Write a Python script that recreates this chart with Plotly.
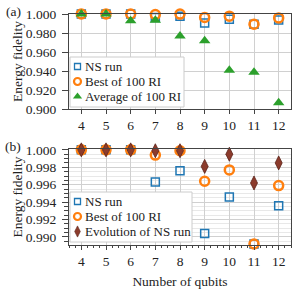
import plotly.graph_objects as go

qubits = [4, 5, 6, 7, 8, 9, 10, 11, 12]

ns_run = [1.0, 1.0, 1.0, 0.9963, 0.9976, 0.9904, 0.9946, 0.9892, 0.9936]
best_ri = [1.0, 1.0, 1.0, 0.9994, 0.9999, 0.9964, 0.9977, 0.9892, 0.9959]
avg_ri = [1.0, 1.0, 0.993, 0.9935, 0.9768, 0.9719, 0.9407, 0.9386, 0.9066]
evo_ns = [1.0, 1.0, 1.0, 0.9999, 0.9999, 0.9981, 0.9995, 0.9962, 0.9985]

legend_a = ["NS run", "Best of 100 RI", "Average of 100 RI"]
legend_b = ["NS run", "Best of 100 RI", "Evolution of NS run"]

FONT = "Liberation Serif"
BLUE = "#1f77b4"
ORANGE = "#ff7f0e"
GREEN = "#2ca02c"
BROWN = "#8c3b2c"

W, H = 292, 293
ML, MR, MT, MB = 69, 1, 14, 48

sq = dict(symbol="square-open", size=8, color=BLUE, line=dict(width=1.5, color=BLUE))
ci = dict(symbol="circle-open", size=9, color=ORANGE, line=dict(width=2.5, color=ORANGE))
tr = dict(symbol="triangle-up", size=10, color=GREEN)
di = dict(symbol="diamond-tall", size=10, color=BROWN, line=dict(width=0.8, color="#5a2218"))

sq_l = dict(symbol="square-open", size=6, color=BLUE, line=dict(width=1.3, color=BLUE))
ci_l = dict(symbol="circle-open", size=7, color=ORANGE, line=dict(width=2.2, color=ORANGE))
tr_l = dict(symbol="triangle-up", size=8, color=GREEN)
di_l = dict(symbol="diamond-tall", size=8, color=BROWN, line=dict(width=0.6, color="#5a2218"))

fig = go.Figure()

def add(x, y, name, marker, xa, ya):
    fig.add_trace(go.Scatter(x=x, y=y, mode="markers", name=name, marker=marker,
                             xaxis=xa, yaxis=ya, cliponaxis=False, showlegend=False,
                             hoverinfo="x+y+name"))

add(qubits, ns_run, legend_a[0], sq, "x", "y")
add(qubits, best_ri, legend_a[1], ci, "x", "y")
add(qubits, avg_ri, legend_a[2], tr, "x", "y")

add(qubits, ns_run, legend_b[0], sq, "x2", "y2")
add(qubits, best_ri, legend_b[1], ci, "x2", "y2")
add(qubits, evo_ns, legend_b[2], di, "x2", "y2")

# --- custom legends drawn on a pixel-coordinate helper axis (x3/y3) ---
shapes = []
annotations = []

def legend_box(x0, x1, y0, y1, labels, markers, ys):
    shapes.append(dict(type="rect", xref="x3", yref="y3", x0=x0, x1=x1, y0=y0, y1=y1,
                       fillcolor="white", line=dict(color="#cccccc", width=1), layer="between"))
    for lab, mk, yy in zip(labels, markers, ys):
        fig.add_trace(go.Scatter(x=[x0 + 7.5], y=[yy], mode="markers", marker=mk,
                                 xaxis="x3", yaxis="y3", showlegend=False, hoverinfo="skip",
                                 cliponaxis=False))
        annotations.append(dict(text=lab, x=x0 + 13, y=yy, xref="x3", yref="y3",
                                xanchor="left", yanchor="middle", showarrow=False,
                                font=dict(family=FONT, size=13, color="#222")))

legend_box(70, 184, 57, 107, legend_a, [sq_l, ci_l, tr_l], [66.5, 81.5, 96.5])
legend_box(70, 192, 192, 242, legend_b, [sq_l, ci_l, di_l], [201.5, 216.5, 231.5])

axcommon = dict(showline=True, mirror=True, linecolor="#444", linewidth=1.2,
                gridcolor="#d0d0d0", gridwidth=1, zeroline=False,
                ticks="outside", tickcolor="#444", automargin=False,
                tickfont=dict(family=FONT, size=13.5, color="#222"))

ttl = dict(family=FONT, size=13.5, color="#222")

fig.update_layout(
    width=W, height=H,
    margin=dict(l=ML, r=MR, t=MT, b=MB),
    plot_bgcolor="rgba(0,0,0,0)", paper_bgcolor="white",
    font=dict(family=FONT, size=13, color="#222"),
    xaxis=dict(domain=[0, 1], range=[3.5, 12.5], tickvals=qubits, anchor="y", ticklen=4, **axcommon),
    yaxis=dict(domain=[0.5887, 1], range=[0.9, 1.0], dtick=0.02, tickformat=".3f",
               anchor="x", ticklen=6, ticklabelstandoff=3,
               title=dict(text="Energy fidelity", font=ttl, standoff=0),
               **axcommon),
    xaxis2=dict(domain=[0, 1], range=[3.5, 12.5], tickvals=qubits, anchor="y2", ticklen=4,
                title=dict(text="Number of qubits", font=ttl, standoff=8),
                minor=dict(dtick=0.25, ticks="outside", ticklen=2, tickcolor="#444", showgrid=False),
                **axcommon),
    yaxis2=dict(domain=[0, 0.4156], range=[0.98908, 1.0001], dtick=0.002, tick0=0.99, tickformat=".3f",
                anchor="x2", ticklen=6, ticklabelstandoff=3,
                title=dict(text="Energy fidelity", font=ttl, standoff=0),
                minor=dict(dtick=0.0005, tick0=0.99, ticks="outside", ticklen=3.5, tickcolor="#444",
                           showgrid=True, gridcolor="#e8e8e8", gridwidth=1),
                **axcommon),
    xaxis3=dict(domain=[0, 1], range=[ML, W - MR], visible=False, anchor="y3", fixedrange=True),
    yaxis3=dict(domain=[0, 1], range=[H - MB, MT], visible=False, anchor="x3", fixedrange=True),
    shapes=shapes,
)

for a in annotations:
    fig.add_annotation(**a)

H_plot = H - MT - MB
W_plot = W - ML - MR
def px_to_paper(px, py):
    return ((px - ML) / W_plot, (H - MB - py) / H_plot)

for lab, (px, py) in [("(a)", (13, 11)), ("(b)", (13, 147))]:
    xx, yy = px_to_paper(px, py)
    fig.add_annotation(text=lab, x=xx, y=yy, xref="paper", yref="paper", showarrow=False,
                       xanchor="center", yanchor="middle", font=dict(family=FONT, size=13.5, color="#222"))

fig.write_html("out.html", config={"displayModeBar": False},
               post_script="document.body.style.margin='0';document.body.style.overflow='hidden';")
